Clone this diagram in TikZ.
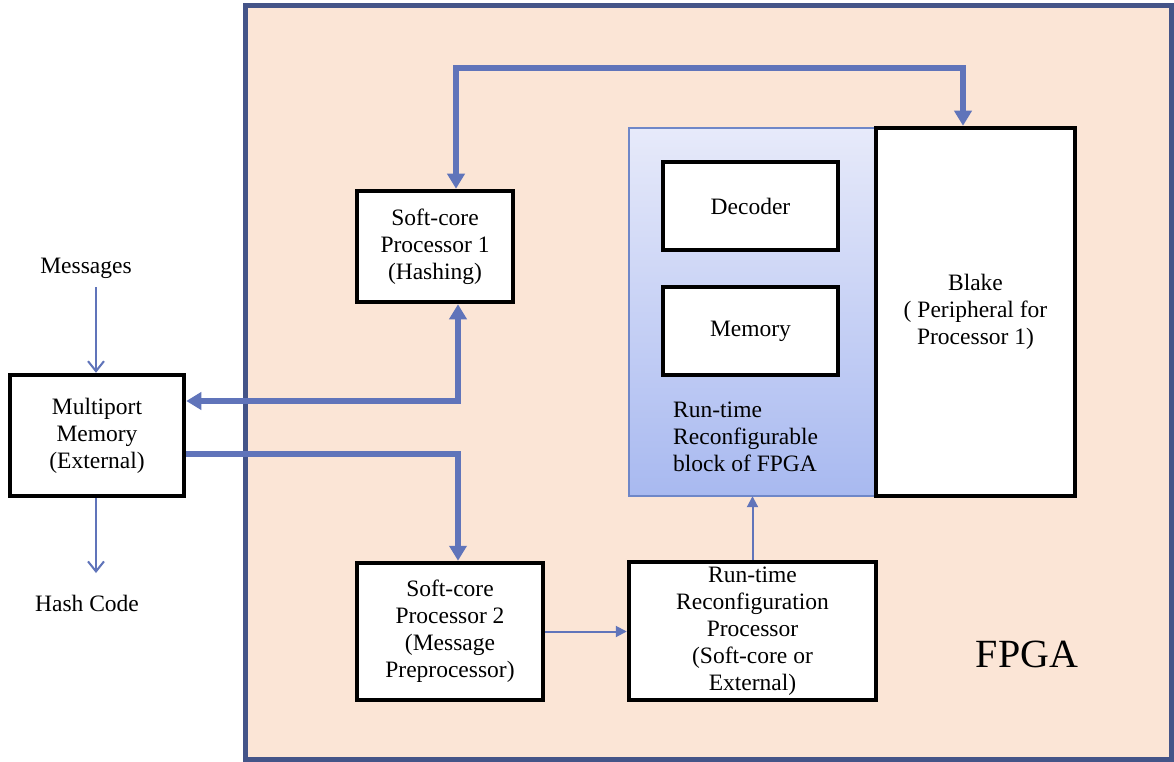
\documentclass[tikz,border=0pt]{standalone}
\usepackage{fontspec}
\setmainfont{Liberation Serif}
\usetikzlibrary{arrows.meta}
\definecolor{fpgafill}{RGB}{251,229,214}
\definecolor{fpgaedge}{RGB}{68,84,136}
\definecolor{linkblue}{RGB}{96,116,186}
\definecolor{blocktop}{RGB}{231,234,250}
\definecolor{blockbot}{RGB}{168,185,240}
\definecolor{blockedge}{RGB}{111,135,200}
\tikzset{
  box/.style={draw=black, line width=4.5pt, fill=white, align=center, inner sep=0pt},
  lbl/.style={align=center, inner sep=0pt},
  bigarrow/.style={draw=linkblue, line width=5.5pt, arrows={-Triangle[length=15pt,width=17pt]}},
  bigboth/.style={draw=linkblue, line width=5.5pt, arrows={Triangle[length=15pt,width=17pt]-Triangle[length=15pt,width=17pt]}},
  smallarrow/.style={draw=linkblue, line width=2pt, arrows={-Triangle[length=11pt,width=11pt]}},
  openarrow/.style={draw=linkblue, line width=2pt, arrows={-Straight Barb[length=10pt,width=16pt]}},
}
\begin{document}
\begin{tikzpicture}[x=1pt,y=-1pt, font=\fontsize{23.5}{27}\selectfont]
\useasboundingbox (0,0) rectangle (1174,762);
\fill[white] (0,0) rectangle (1174,762);
% FPGA region
\draw[fill=fpgafill, draw=fpgaedge, line width=5pt] (245,6) rectangle (1171,759);
\node[lbl, font=\fontsize{40}{44}\selectfont] (fpga) at (1027,654) {FPGA};
% Reconfigurable block
\shade[top color=blocktop, bottom color=blockbot] (629,128) rectangle (876,496);
\draw[draw=blockedge, line width=1.5pt] (629,128) rectangle (876,496);
\node[inner sep=0pt, minimum width=247pt, minimum height=368pt] (block) at (752.5,312) {};
\node[box, minimum width=175pt, minimum height=88pt] (dec) at (750.5,206) {Decoder};
\node[box, minimum width=175pt, minimum height=88pt] (bmem) at (750.5,331) {Memory};
\node[align=left, anchor=west, inner sep=0pt] (blocklbl) at (673,437) {Run-time\\Reconfigurable\\block of FPGA};
% Blake
\node[box, minimum width=199pt, minimum height=368pt] (blake) at (975.5,312) {Blake\\( Peripheral for\\Processor 1)};
% Processors
\node[box, minimum width=156pt, minimum height=111pt] (sp1) at (435,246.5) {Soft-core\\Processor 1\\(Hashing)};
\node[box, minimum width=186pt, minimum height=137pt] (sp2) at (450,631.5) {Soft-core\\Processor 2\\(Message\\Preprocessor)};
\node[box, minimum width=247pt, minimum height=138pt] (rtr) at (752.5,631) {Run-time\\Reconfiguration\\Processor\\(Soft-core or\\External)};
% External memory
\node[box, minimum width=174pt, minimum height=121pt] (mem) at (97,435.5) {Multiport\\Memory\\(External)};
\node[lbl] (msg) at (86,268) {Messages};
\node[lbl] (hash) at (87,603) {Hash Code};
% connector corners
\coordinate (c1) at (456,68);
\coordinate (c2) at (963,68);
\coordinate (c3) at (458,401);
\coordinate (c4) at (458,454);
% connectors
\draw[bigboth] (c1 |- sp1.north) -- (c1) -- (c2) -- (c2 |- blake.north);
\draw[bigboth] (c3 |- sp1.south) -- (c3) -- (c3 -| mem.east);
\draw[bigarrow] (c4 -| mem.east) -- (c4) -- (c4 |- sp2.north);
\draw[smallarrow] (sp2.east) -- (sp2.east -| rtr.west);
\draw[smallarrow] (rtr.north) -- (rtr.north |- block.south);
\coordinate (m1) at (96,287);
\coordinate (h1) at (96,573);
\draw[openarrow] (m1) -- (m1 |- mem.north);
\draw[openarrow] (h1 |- mem.south) -- (h1);
\end{tikzpicture}
\end{document}
